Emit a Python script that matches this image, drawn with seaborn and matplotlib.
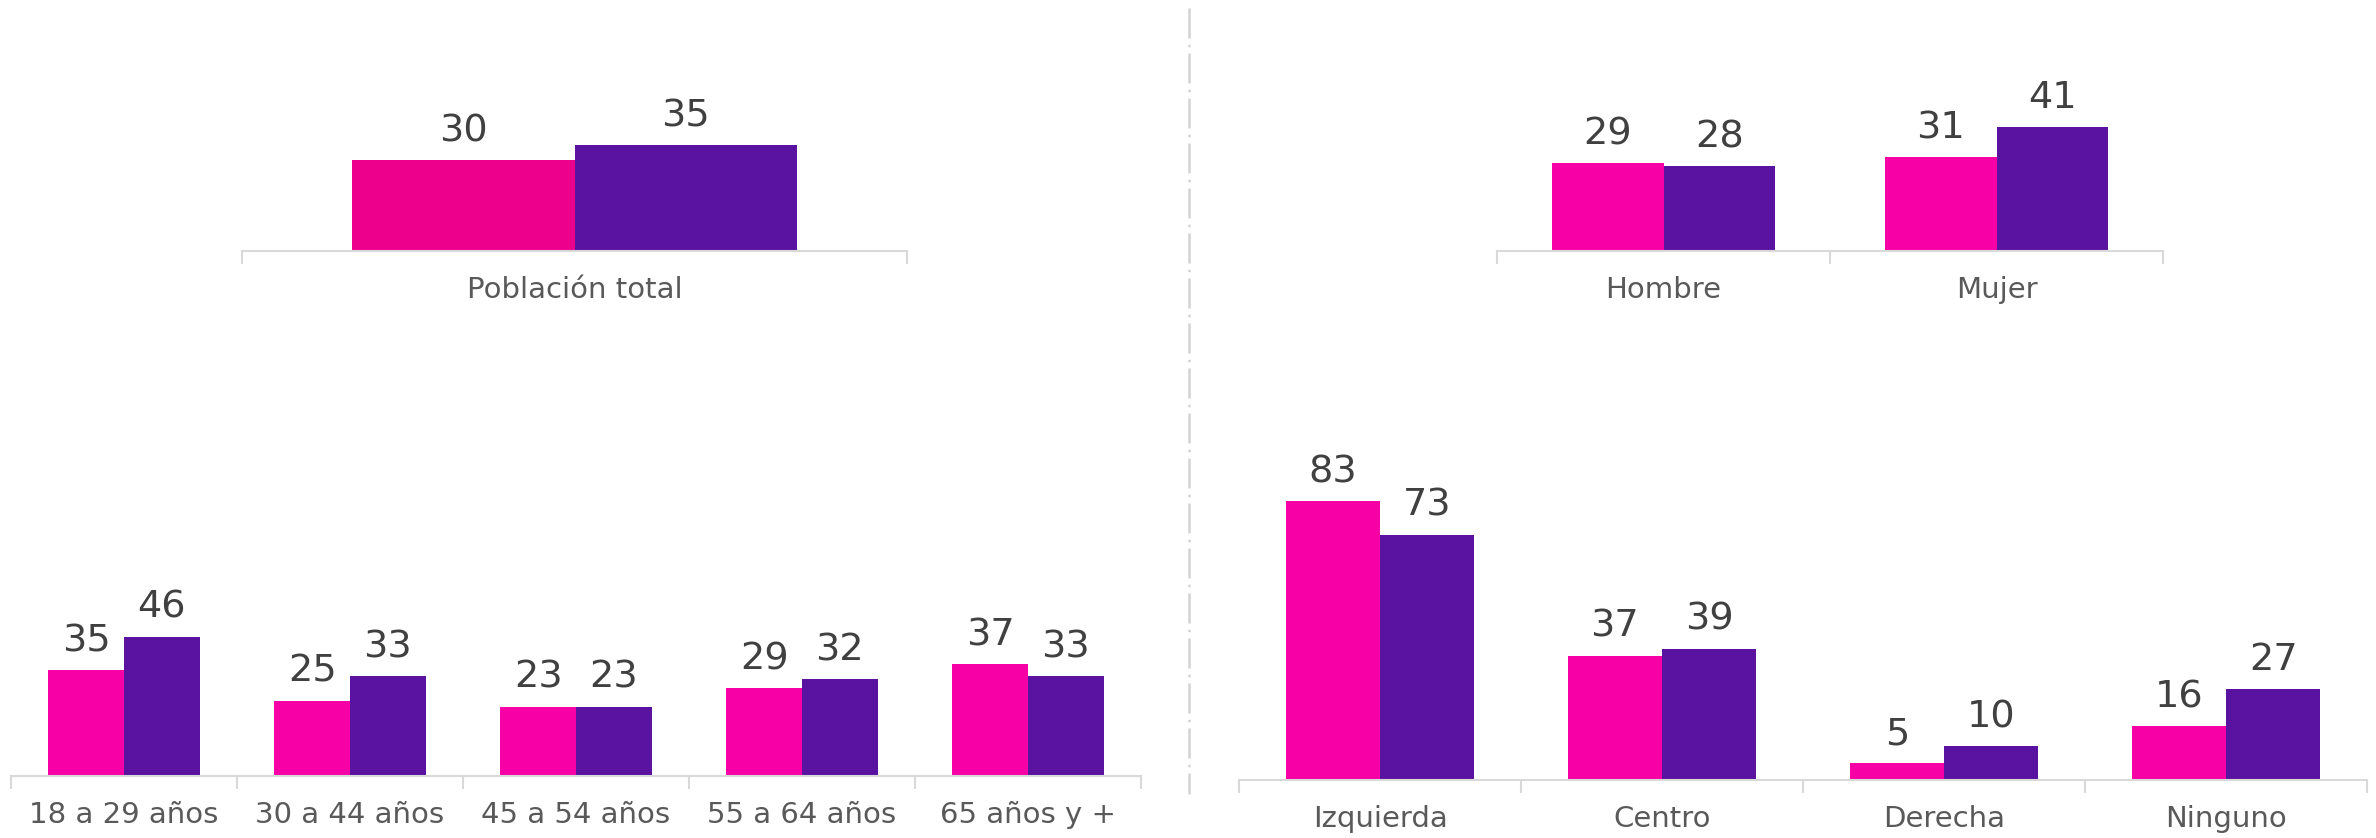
import numpy as np
import pandas as pd
import matplotlib
matplotlib.use("Agg")
import matplotlib.pyplot as plt
from matplotlib.lines import Line2D
import seaborn as sns

# ---------------- data ----------------
series = ["serie_1", "serie_2"]

total_cats = ["Población total"]
total_s1 = [30]
total_s2 = [35]

sexo_cats = ["Hombre", "Mujer"]
sexo_s1 = [29, 31]
sexo_s2 = [28, 41]

edad_cats = ["18 a 29 años", "30 a 44 años", "45 a 54 años", "55 a 64 años", "65 años y +"]
edad_s1 = [35, 25, 23, 29, 37]
edad_s2 = [46, 33, 23, 32, 33]

ideo_cats = ["Izquierda", "Centro", "Derecha", "Ninguno"]
ideo_s1 = [83, 37, 5, 16]
ideo_s2 = [73, 39, 10, 27]

# ---------------- style ----------------
sns.set_style("white")
plt.rcParams['font.family'] = ['DejaVu Sans']

PINK = "#F700A5"
PINK_TOTAL = "#EC008C"
PURPLE = "#5A12A0"
AXIS_GREY = "#D9D9D9"
VALUE_COLOR = "#404040"
LABEL_COLOR = "#595959"

W, H = 2376, 838
fig = plt.figure(figsize=(W / 100, H / 100), dpi=100)


def make_df(cats, s1, s2):
    return pd.DataFrame({
        "categoria": cats * 2,
        "serie": [series[0]] * len(cats) + [series[1]] * len(cats),
        "valor": list(s1) + list(s2),
    })


def panel(x0, width, baseline, ymax, px_per_unit, cats, s1, s2, pink):
    height = ymax * px_per_unit
    ax = fig.add_axes([x0 / W, (H - baseline) / H, width / W, height / H])
    df = make_df(cats, s1, s2)
    sns.barplot(data=df, x="categoria", y="valor", hue="serie", order=cats,
                hue_order=series, palette=[pink, PURPLE], saturation=1,
                width=0.67, linewidth=0, legend=False, ax=ax)
    ax.set_ylim(0, ymax)
    ax.set_xlim(-0.5, len(cats) - 0.5)
    for c in ax.containers:
        ax.bar_label(c, padding=8, fontsize=27.5, color=VALUE_COLOR, clip_on=False)
    sns.despine(ax=ax, left=True, top=True, right=True)
    ax.spines["bottom"].set_color(AXIS_GREY)
    ax.spines["bottom"].set_linewidth(1.5)
    ax.set_yticks([])
    ax.set_xlabel("")
    ax.set_ylabel("")
    ax.set_xticks(np.arange(-0.5, len(cats)), minor=True)
    ax.tick_params(axis="x", which="major", length=0, pad=18,
                   labelsize=21, labelcolor=LABEL_COLOR)
    ax.tick_params(axis="x", which="minor", length=9, width=1.5,
                   color=AXIS_GREY, direction="out", bottom=True)
    ax.patch.set_alpha(0)
    return ax


panel(242, 665, 251, 50, 3.02, total_cats, total_s1, total_s2, PINK_TOTAL)
panel(1497, 666, 251, 50, 3.02, sexo_cats, sexo_s1, sexo_s2, PINK)
panel(11, 1130, 776, 60, 3.02, edad_cats, edad_s1, edad_s2, PINK)
panel(1239, 1128, 780, 100, 3.36, ideo_cats, ideo_s1, ideo_s2, PINK)

# dash-dot separator between the two halves
sep = Line2D([1189 / W, 1189 / W], [1 - 8 / H, 1 - 794 / H], transform=fig.transFigure,
             color="#D3D3D3", linewidth=1.8, dashes=(12, 2.5, 1, 2.5))
fig.add_artist(sep)

fig.savefig("out.png", dpi=100, facecolor="white")
